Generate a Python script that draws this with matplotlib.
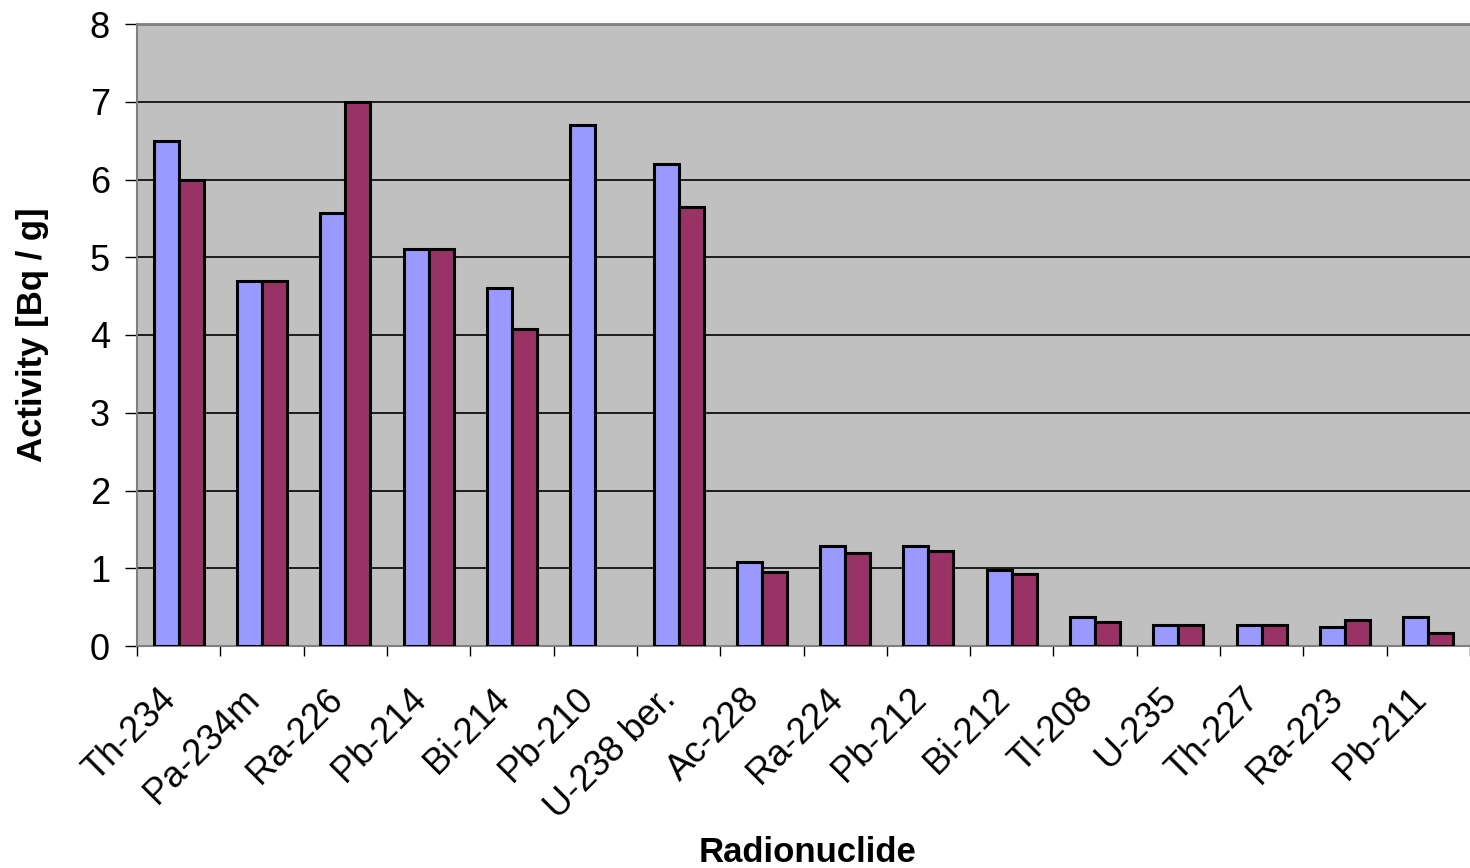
import matplotlib
matplotlib.use("Agg")
import matplotlib.pyplot as plt
import matplotlib.transforms as mtransforms
import numpy as np

plt.rcParams['font.family'] = ['Liberation Sans', 'DejaVu Sans']

nuclides = ["Th-234", "Pa-234m", "Ra-226", "Pb-214", "Bi-214", "Pb-210",
            "U-238 ber.", "Ac-228", "Ra-224", "Pb-212", "Bi-212", "Tl-208",
            "U-235", "Th-227", "Ra-223", "Pb-211"]
series_a = [6.5, 4.7, 5.57, 5.1, 4.6, 6.7, 6.2, 1.08, 1.29, 1.29, 0.98,
            0.37, 0.27, 0.27, 0.24, 0.37]
# Pb-210 has no value in the second series
series_b = [6.0, 4.7, 7.0, 5.1, 4.08, np.nan, 5.64, 0.95, 1.19, 1.22, 0.92,
            0.31, 0.27, 0.27, 0.34, 0.17]

color_a = "#9999FF"
color_b = "#993366"

fig = plt.figure(figsize=(14.7, 8.68), dpi=100)
ax = fig.add_axes([137 / 1470, 1 - 646 / 868, 1 - 137 / 1470, (646 - 24) / 868])
ax.set_facecolor("#C0C0C0")

x = np.arange(len(nuclides))
w = 0.3
ax.bar(x - w / 2, series_a, width=w, color=color_a, edgecolor="black",
       linewidth=2.2, zorder=3)
ax.bar(x + w / 2, series_b, width=w, color=color_b, edgecolor="black",
       linewidth=2.2, zorder=3)

ax.set_ylim(0, 8)
ax.set_xlim(-0.5, -0.5 + (1470 - 137) / 84.2)
ax.set_yticks(range(0, 9))
ax.yaxis.grid(True, color="black", linewidth=1.2, zorder=1)
ax.set_axisbelow(True)

ax.spines["right"].set_visible(False)
ax.spines["top"].set_color("#808080")
ax.spines["top"].set_linewidth(2)
ax.spines["left"].set_color("#808080")
ax.spines["left"].set_linewidth(1.5)
ax.spines["bottom"].set_color("#808080")
ax.spines["bottom"].set_linewidth(1.5)

# category boundary ticks on x, labels at category centres
ax.set_xticks(np.arange(-0.5, len(nuclides), 1.0))
ax.set_xticklabels([])
ax.set_xticks(x, minor=True)
ax.set_xticklabels(nuclides, minor=True, rotation=45, ha="right",
                   rotation_mode="anchor", fontsize=26)
ax.tick_params(axis="x", which="minor", length=0, pad=4)
ax.tick_params(axis="x", which="major", length=7, width=1, color="black",
               direction="out")
ax.tick_params(axis="y", length=8.5, width=1, color="black", direction="out",
               labelsize=26, pad=11)

shift = mtransforms.ScaledTranslation(-20 / 100, -30 / 100, fig.dpi_scale_trans)
for lbl in ax.get_xticklabels(minor=True):
    lbl.set_transform(lbl.get_transform() + shift)

ax.set_ylabel("Activity [Bq / g]", fontsize=25, fontweight="bold")
ax.yaxis.set_label_coords((49 - 137) / 1333, 0.5)
ax.set_xlabel("Radionuclide", fontsize=25, fontweight="bold")
ax.xaxis.set_label_coords((808 - 137) / 1333, (646 - 836) / 622)

fig.savefig("out.png", dpi=100)
